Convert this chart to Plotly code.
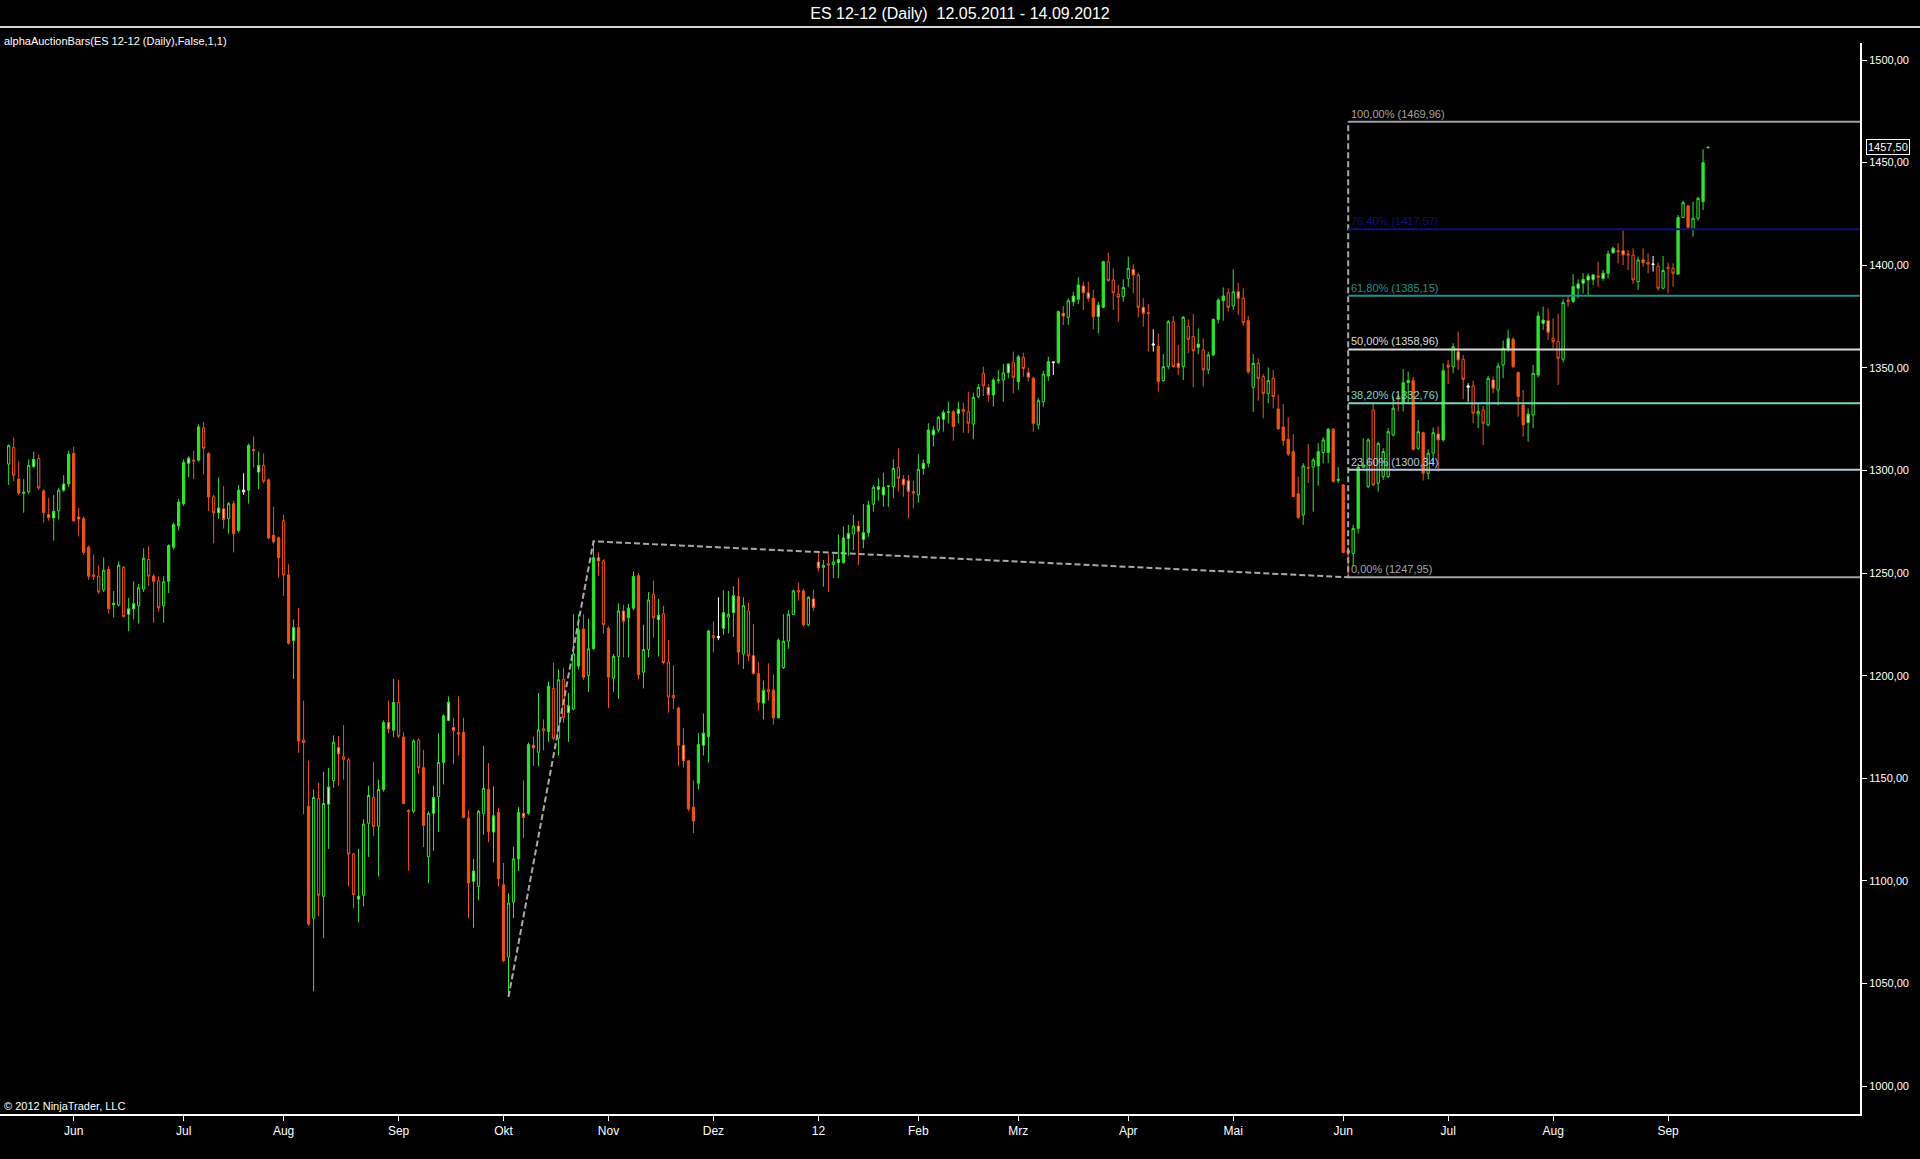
import plotly.graph_objects as go

# ---------------- data ----------------
bar_open = [
1303.1,1311.2,1295.8,1288.8,1289.6,1301.9,1305.8,1290.0,1278.4,1276.9,
1280.3,1290.4,1293.4,1308.3,1277.3,1276.5,1262.6,1249.1,1248.5,1241.8,
1251.8,1234.5,1234.5,1252.8,1229.9,1232.6,1234.1,1242.2,1256.6,1248.5,
1246.2,1234.1,1246.0,1262.6,1273.0,1283.8,1303.5,1305.0,1305.0,1320.8,
1308.3,1287.1,1279.4,1281.3,1276.5,1283.8,1270.7,1289.6,1290.4,1310.2,
1299.2,1302.5,1295.4,1268.4,1267.2,1275.5,1249.1,1217.1,1223.5,1168.6,
1136.4,1081.9,1140.1,1092.5,1137.4,1148.9,1165.1,1160.5,1159.0,1113.1,
1091.1,1093.0,1128.1,1140.6,1126.6,1144.5,1177.2,1173.4,1186.9,1170.1,
1134.3,1133.9,1168.6,1155.1,1111.7,1132.9,1141.0,1157.7,1178.2,1174.8,
1172.3,1172.3,1130.5,1099.8,1097.3,1132.9,1144.6,1123.8,1133.4,1098.1,
1062.9,1089.7,1110.7,1132.9,1132.9,1166.1,1162.7,1174.1,1172.8,1193.8,
1169.5,1198.3,1182.0,1183.7,1204.7,1222.8,1200.0,1213.1,1257.5,1255.9,
1223.1,1198.8,1209.4,1231.5,1228.2,1232.9,1248.7,1201.7,1212.7,1239.6,
1227.3,1230.2,1206.7,1190.4,1184.2,1166.1,1158.5,1135.9,1147.6,1166.1,
1170.3,1219.5,1218.5,1223.1,1228.5,1230.7,1238.6,1210.6,1231.5,1209.7,
1201.0,1186.6,1193.3,1193.0,1179.5,1203.9,1216.8,1229.9,1241.6,1241.3,
1224.8,1237.4,1255.4,1252.8,1254.5,1254.2,1255.0,1255.0,1266.8,1269.0,
1272.9,1266.4,1269.7,1283.6,1290.8,1288.1,1292.1,1292.1,1301.5,1295.7,
1295.0,1289.7,1288.1,1301.0,1303.5,1317.3,1319.7,1324.9,1328.2,1328.6,
1327.8,1329.8,1328.6,1322.6,1336.0,1347.3,1340.5,1336.8,1343.7,1344.1,
1347.6,1352.5,1343.3,1355.1,1347.6,1344.9,1322.2,1333.5,1346.0,1352.5,
1352.5,1376.6,1374.6,1382.2,1383.4,1389.9,1386.6,1383.9,1374.9,1379.5,
1401.7,1392.8,1386.0,1384.7,1393.6,1398.0,1395.2,1379.5,1376.9,1361.1,
1360.6,1343.8,1350.6,1372.5,1352.2,1350.6,1370.1,1365.2,1360.0,1358.7,
1349.0,1356.3,1373.6,1382.7,1386.6,1380.1,1387.1,1383.9,1373.0,1340.5,
1352.2,1345.7,1337.6,1344.9,1330.0,1321.2,1315.2,1309.2,1288.6,1278.3,
1301.6,1301.6,1302.2,1308.7,1308.7,1320.1,1295.1,1292.9,1261.0,1259.6,
1271.8,1301.6,1292.1,1329.5,1293.8,1297.0,1297.0,1317.3,1336.0,1332.7,
1342.8,1343.8,1310.8,1318.4,1298.6,1308.4,1317.8,1314.9,1351.4,1350.6,
1357.9,1354.2,1340.5,1341.2,1327.5,1329.5,1322.2,1344.1,1339.2,1351.4,
1359.5,1363.9,1347.7,1331.9,1323.3,1327.0,1346.5,1371.7,1373.0,1364.4,
1362.8,1354.2,1383.1,1382.3,1388.8,1391.2,1392.8,1393.1,1394.8,1393.6,
1396.1,1406.1,1407.1,1407.1,1405.5,1405.0,1392.0,1402.6,1401.3,1400.3,
1399.6,1388.8,1399.0,1398.5,1395.7,1423.3,1428.9,1417.5,1422.9,1431.0,
1457.25]

bar_high = [
1312.7,1316.0,1304.4,1295.8,1305.4,1309.2,1307.7,1290.9,1286.5,1288.1,
1291.5,1297.7,1309.6,1311.6,1281.7,1277.5,1263.4,1259.1,1253.8,1257.6,
1253.4,1241.2,1255.7,1253.4,1237.9,1246.0,1244.7,1262.1,1263.0,1249.5,
1248.5,1248.5,1264.0,1274.6,1286.1,1305.4,1306.9,1309.6,1322.4,1323.7,
1308.9,1288.1,1296.7,1292.3,1284.6,1285.2,1292.9,1298.6,1313.1,1316.6,
1309.2,1308.3,1296.1,1282.3,1267.8,1278.4,1254.3,1227.3,1233.1,1187.8,
1158.6,1144.5,1147.8,1153.2,1155.1,1170.9,1170.5,1175.9,1159.9,1113.7,
1115.6,1130.0,1146.4,1158.0,1149.3,1178.2,1187.8,1198.4,1197.9,1172.4,
1134.9,1169.0,1169.5,1163.8,1133.9,1146.4,1172.0,1181.2,1189.9,1179.5,
1189.9,1179.5,1134.5,1110.7,1134.5,1165.8,1157.4,1146.0,1135.6,1108.7,
1093.9,1116.6,1135.9,1149.0,1167.4,1170.3,1191.6,1178.7,1197.1,1206.4,
1203.0,1203.9,1191.6,1229.9,1229.9,1229.9,1227.8,1265.46,1260.1,1256.7,
1224.0,1210.6,1235.2,1234.6,1234.9,1250.8,1250.0,1224.8,1240.8,1246.3,
1237.4,1234.1,1217.3,1205.0,1184.9,1174.5,1159.0,1149.0,1172.0,1181.5,
1222.3,1226.5,1238.2,1241.6,1241.3,1243.6,1247.5,1238.2,1235.7,1225.2,
1206.7,1197.6,1206.0,1200.5,1218.1,1229.9,1231.9,1241.9,1245.3,1242.4,
1238.6,1241.9,1260.1,1256.4,1259.2,1259.2,1268.8,1272.6,1273.5,1278.3,
1275.5,1283.6,1285.3,1292.9,1296.2,1298.9,1292.9,1305.4,1310.8,1297.8,
1297.8,1295.0,1308.0,1305.4,1323.0,1321.7,1326.5,1329.5,1333.5,1329.5,
1333.5,1333.0,1338.4,1337.9,1342.1,1350.6,1342.1,1344.9,1349.0,1351.9,
1352.2,1357.9,1356.3,1357.4,1350.2,1345.7,1335.2,1348.6,1355.4,1353.0,
1377.9,1380.1,1383.9,1387.1,1394.1,1392.0,1392.0,1388.0,1382.2,1402.2,
1406.1,1398.5,1390.4,1393.1,1404.2,1400.6,1396.4,1383.9,1381.1,1368.8,
1366.8,1356.7,1373.3,1375.3,1361.1,1375.3,1373.6,1376.2,1369.2,1364.4,
1357.9,1374.1,1383.9,1389.2,1388.7,1398.0,1391.5,1388.7,1375.3,1356.7,
1354.6,1347.0,1350.2,1349.0,1337.0,1332.4,1325.9,1317.8,1297.0,1303.5,
1312.9,1305.9,1313.2,1316.2,1320.6,1320.6,1301.6,1293.4,1262.9,1273.5,
1302.7,1315.7,1315.7,1332.4,1314.1,1310.8,1320.6,1336.0,1337.3,1349.3,
1348.2,1345.7,1324.6,1318.9,1310.3,1321.0,1321.4,1352.2,1353.8,1362.0,
1367.6,1356.3,1342.5,1343.8,1333.1,1331.4,1346.0,1345.7,1352.5,1363.3,
1368.5,1364.9,1348.2,1339.2,1330.3,1351.4,1377.4,1379.8,1379.0,1374.1,
1376.3,1383.4,1385.5,1395.7,1393.1,1396.1,1396.1,1395.7,1401.7,1397.7,
1407.1,1409.1,1410.7,1416.9,1407.4,1408.2,1404.2,1408.2,1405.8,1404.5,
1401.3,1404.5,1401.3,1400.9,1424.5,1431.5,1429.4,1431.0,1433.4,1456.5,
1457.75]

bar_low = [
1292.9,1294.8,1288.1,1279.4,1288.4,1301.2,1290.4,1274.6,1275.5,1265.9,
1276.1,1289.6,1291.9,1274.9,1267.8,1258.8,1246.6,1246.6,1239.9,1240.8,
1230.2,1228.3,1233.7,1228.3,1221.6,1227.3,1225.4,1240.8,1243.7,1225.8,
1231.2,1225.8,1240.3,1261.5,1270.7,1282.7,1296.7,1295.8,1304.4,1298.1,
1280.3,1264.5,1276.5,1271.7,1269.2,1260.1,1269.7,1288.1,1283.8,1301.5,
1290.9,1293.8,1266.5,1264.5,1247.6,1238.9,1215.2,1198.4,1162.4,1132.4,
1078.0,1046.2,1082.8,1072.2,1115.6,1145.5,1146.4,1149.3,1097.3,1086.7,
1079.9,1087.7,1111.7,1121.9,1102.1,1143.5,1172.0,1170.1,1169.5,1137.4,
1105.0,1132.9,1152.2,1116.5,1098.8,1114.6,1123.8,1147.0,1177.8,1156.9,
1161.1,1130.5,1081.9,1077.2,1090.6,1122.5,1118.8,1109.0,1097.3,1060.4,
1043.45,1081.9,1104.8,1120.8,1132.2,1156.0,1156.0,1163.6,1167.8,1168.6,
1161.1,1177.0,1167.8,1183.2,1203.0,1198.0,1192.1,1212.7,1248.7,1220.6,
1184.2,1192.1,1188.7,1208.9,1208.9,1231.9,1198.3,1193.8,1208.9,1218.5,
1209.4,1205.5,1182.0,1183.7,1156.0,1155.2,1133.9,1123.3,1144.6,1161.1,
1157.7,1211.4,1217.3,1219.8,1220.6,1218.9,1205.5,1203.3,1207.2,1200.5,
1182.9,1178.7,1187.9,1176.2,1179.2,1203.3,1213.1,1229.5,1236.6,1224.0,
1224.0,1231.5,1250.8,1243.3,1240.8,1247.5,1247.5,1254.7,1258.4,1261.2,
1253.9,1262.1,1267.7,1279.9,1285.3,1282.3,1282.3,1286.4,1289.7,1287.2,
1276.7,1281.5,1284.3,1297.8,1301.5,1311.6,1318.4,1318.9,1323.0,1314.5,
1323.0,1318.4,1318.1,1315.2,1335.2,1336.3,1333.5,1331.1,1342.4,1333.5,
1344.9,1337.6,1339.2,1345.7,1343.3,1318.9,1320.0,1331.1,1343.7,1346.5,
1351.9,1370.9,1370.9,1380.1,1381.1,1378.2,1382.2,1368.8,1366.8,1379.0,
1392.0,1378.2,1372.5,1382.2,1389.5,1386.3,1374.6,1370.1,1357.9,1357.9,
1338.4,1343.3,1349.3,1350.2,1346.5,1344.1,1357.1,1340.5,1356.7,1340.8,
1347.0,1355.8,1371.7,1373.0,1377.4,1378.2,1375.8,1370.4,1347.0,1328.6,
1334.0,1325.4,1332.7,1330.3,1319.7,1312.0,1307.1,1286.9,1276.2,1273.5,
1293.8,1279.9,1292.5,1303.5,1303.5,1294.1,1293.8,1259.7,1247.95,1253.2,
1269.4,1301.1,1291.3,1292.5,1289.7,1295.4,1296.2,1316.5,1328.7,1328.7,
1332.7,1309.7,1310.0,1295.1,1295.7,1303.5,1299.4,1314.1,1342.2,1347.3,
1349.0,1334.7,1333.5,1323.0,1320.6,1312.4,1321.4,1337.6,1331.9,1344.9,
1357.9,1349.8,1326.2,1316.5,1314.1,1320.6,1345.4,1368.5,1363.6,1359.5,
1341.7,1352.5,1379.8,1381.5,1383.9,1386.3,1384.7,1390.4,1389.6,1392.5,
1393.6,1405.5,1400.9,1400.1,1397.7,1390.9,1388.0,1399.3,1396.1,1396.9,
1387.6,1388.3,1386.3,1389.6,1395.3,1422.9,1417.5,1413.9,1421.7,1426.9,
1457.0]

bar_close = [
1312.1,1297.7,1289.0,1289.4,1302.5,1305.4,1291.5,1279.4,1277.1,1280.0,
1290.4,1293.4,1307.9,1275.5,1276.3,1260.1,1248.5,1248.4,1240.8,1251.4,
1232.6,1235.3,1253.8,1228.9,1232.6,1235.1,1242.8,1257.2,1248.5,1246.0,
1233.1,1245.7,1263.4,1273.6,1284.6,1303.9,1306.0,1304.6,1321.2,1310.8,
1287.1,1279.4,1281.7,1276.1,1283.8,1269.2,1290.4,1290.4,1312.1,1309.6,
1302.5,1294.8,1267.2,1265.3,1257.6,1249.1,1215.8,1223.5,1168.2,1167.4,
1079.0,1140.6,1093.0,1137.7,1145.8,1167.6,1161.8,1159.3,1113.1,1093.4,
1092.5,1127.7,1141.6,1126.6,1144.5,1177.2,1174.0,1186.9,1170.5,1137.7,
1133.7,1168.2,1155.1,1127.1,1132.9,1140.6,1157.7,1180.4,1187.1,1173.3,
1171.5,1130.9,1099.0,1104.8,1133.9,1145.1,1124.1,1131.7,1101.0,1061.2,
1089.2,1110.7,1133.4,1130.9,1166.4,1164.8,1173.6,1173.1,1194.9,1169.5,
1198.0,1179.5,1185.4,1210.6,1222.3,1199.3,1213.1,1257.5,1255.9,1224.8,
1199.3,1209.4,1231.5,1226.5,1232.9,1248.3,1200.5,1212.7,1236.9,1228.2,
1229.5,1206.4,1189.6,1189.2,1166.1,1158.5,1135.1,1129.2,1166.4,1172.0,
1221.8,1218.5,1219.0,1230.7,1229.9,1239.1,1211.4,1234.1,1209.7,1201.0,
1187.1,1192.9,1192.1,1179.5,1217.3,1216.8,1229.9,1241.3,1240.8,1224.8,
1238.2,1233.2,1252.5,1253.7,1253.9,1255.4,1256.7,1267.1,1269.3,1272.9,
1270.2,1269.7,1283.2,1291.8,1292.1,1291.8,1292.4,1301.0,1296.2,1292.9,
1289.7,1288.9,1300.6,1303.5,1319.7,1319.7,1325.9,1328.2,1328.6,1321.4,
1329.8,1328.6,1323.0,1335.6,1340.5,1341.2,1336.8,1344.1,1344.1,1347.6,
1351.9,1345.4,1355.4,1349.7,1345.4,1323.0,1334.0,1347.0,1353.0,1352.8,
1377.4,1375.3,1382.7,1385.0,1390.4,1386.6,1383.9,1374.9,1380.6,1401.7,
1392.5,1386.6,1384.4,1389.2,1398.5,1395.2,1379.5,1376.6,1376.6,1361.6,
1343.3,1350.6,1372.5,1350.6,1350.2,1374.6,1363.9,1358.4,1361.6,1349.0,
1356.3,1373.6,1383.0,1385.0,1379.5,1387.1,1383.9,1372.0,1348.1,1352.2,
1344.9,1337.6,1343.8,1336.0,1320.3,1314.6,1308.0,1287.3,1277.2,1302.2,
1301.1,1305.1,1309.2,1314.9,1320.1,1294.6,1295.7,1260.0,1259.7,1271.8,
1301.6,1302.7,1314.9,1292.9,1313.2,1309.2,1318.9,1330.3,1334.7,1342.8,
1343.8,1310.3,1318.9,1298.6,1308.4,1318.4,1314.9,1348.6,1350.3,1360.3,
1353.8,1344.4,1341.2,1327.9,1328.7,1323.0,1344.9,1340.0,1350.9,1359.5,
1364.4,1350.6,1336.0,1322.2,1327.5,1347.3,1375.3,1373.3,1367.2,1362.8,
1354.7,1381.8,1382.3,1389.6,1390.9,1393.1,1394.8,1395.3,1394.1,1396.1,
1405.5,1408.3,1406.6,1405.0,1405.0,1392.8,1402.6,1401.3,1400.6,1400.6,
1388.8,1397.4,1398.5,1396.1,1423.3,1430.5,1418.5,1422.9,1432.6,1450.0,
1457.5]

# bar colouring from the indicator: G/g/L green (filled / hollow / pale),
# R/r/P orange-red (filled / hollow / pale), W white
bar_style = list(
    "grRggLrRPL" "gLGRPRRrrg" "RLgrLLggrR" "rgGGGGLrGr" "RrLPgRGWGr"
    "LrRRRrRLRr" "RgrgLgPrrr" "LggrgGPGrR" "rgrRgLgGLP" "rRRLggRLRR"
    "ggGPGPgrGr" "grLgGRgGPr" "RggPGGRggr" "LrrrRPRRGL" "GrWLgLRgrP"
    "RLrRGgggrR" "gPPgrgLGLg" "PLGgLLggrP" "PrgLGLgLgR" "LrrggrPGgg"
    "LrGrPRggGW" "GPgLGPPRLG" "rrrggPrPrW" "RggrPgrrLr" "gGGGrgPrRg"
    "rrgrRRRRRg" "rgGgGRgRPg" "GggrggggrG" "GRgRggPGrg" "PrWrgrgPgg"
    "LRRRLgGLPr" "rgrGLLLLrL" "GLrPrrgPrW" "rgrrGgRggGG")

# x-axis: bar index of the first trading day of each month
month_tick_idx = [13, 35, 55, 78, 99, 120, 141, 162, 182, 202, 224, 245, 267, 288, 309, 332]
month_tick_txt = ["Jun", "Jul", "Aug", "Sep", "Okt", "Nov", "Dez", "12",
                  "Feb", "Mrz", "Apr", "Mai", "Jun", "Jul", "Aug", "Sep"]
price_ticks = [1000, 1050, 1100, 1150, 1200, 1250, 1300, 1350, 1400, 1450, 1500]

# Fibonacci extension drawing (A-B-C), anchored on bar indices
fib_path_idx = [100, 117, 268, 268]
fib_path_val = [1043.45, 1265.46, 1247.95, 1469.96]
fib_start_idx = 268
fib_levels = [1469.96, 1417.57, 1385.15, 1358.96, 1332.76, 1300.34, 1247.95]
fib_labels = ["100,00% (1469,96)", "76,40% (1417,57)", "61,80% (1385,15)",
              "50,00% (1358,96)", "38,20% (1332,76)", "23,60% (1300,34)",
              "0,00% (1247,95)"]
fib_colors = ["#a3a3a3", "#10107a", "#238f88", "#dcdcdc", "#7fd6c4", "#b8c8e0", "#a3a3a3"]

last_price = 1457.50

# ---------------- figure ----------------
GREEN = "#2fe32f"
ORANGE = "#f0521c"
styles = {
    "G": (GREEN, GREEN),
    "g": (GREEN, "#000000"),
    "L": (GREEN, "#c9f5c9"),
    "R": (ORANGE, ORANGE),
    "r": (ORANGE, "#000000"),
    "P": (ORANGE, "#f7cdb6"),
    "W": ("#ffffff", "#000000"),
}

FONT = "Arial, Liberation Sans, sans-serif"
fig = go.Figure()

for key, (lc, fc) in styles.items():
    idx = [i for i, s in enumerate(bar_style) if s == key]
    if not idx:
        continue
    fig.add_trace(go.Candlestick(
        x=idx,
        open=[bar_open[i] for i in idx],
        high=[bar_high[i] for i in idx],
        low=[bar_low[i] for i in idx],
        close=[bar_close[i] for i in idx],
        increasing=dict(line=dict(color=lc, width=1), fillcolor=fc),
        decreasing=dict(line=dict(color=lc, width=1), fillcolor=fc),
        whiskerwidth=0,
        showlegend=False,
        hoverinfo="skip",
    ))

# dashed A-B-C path and vertical projection
fig.add_trace(go.Scatter(
    x=fib_path_idx, y=fib_path_val, mode="lines",
    line=dict(color="#a8a8a8", width=2, dash="6px,3px"),
    showlegend=False, hoverinfo="skip"))

X_MIN, X_MAX = -1.74, 370.4
Y_MIN, Y_MAX = 986.4, 1508.3

for lvl, lab, col in zip(fib_levels, fib_labels, fib_colors):
    fig.add_trace(go.Scatter(
        x=[fib_start_idx, X_MAX], y=[lvl, lvl], mode="lines",
        line=dict(color=col, width=2), showlegend=False, hoverinfo="skip"))
    fig.add_annotation(
        x=fib_start_idx, y=lvl, xref="x", yref="y", text=lab, showarrow=False,
        xanchor="left", yanchor="bottom", xshift=1, yshift=0,
        font=dict(family=FONT, size=11, color=col))

fig.update_layout(
    width=1920, height=1159,
    paper_bgcolor="#000000", plot_bgcolor="#000000",
    margin=dict(l=0, r=60, t=43, b=45),
    separators=",.",
    boxgap=0.35,
    showlegend=False,
    title=dict(text="ES 12-12 (Daily)  12.05.2011 - 14.09.2012",
               x=0.5, xref="container", xanchor="center",
               y=1 - 13 / 1159, yref="container", yanchor="middle",
               font=dict(family=FONT, size=16, color="#ffffff")),
    xaxis=dict(
        range=[X_MIN, X_MAX], rangeslider=dict(visible=False),
        showgrid=False, zeroline=False, showline=True, linecolor="#ffffff", linewidth=2,
        ticks="outside", ticklen=5, tickcolor="#ffffff", tickwidth=1,
        tickmode="array", tickvals=month_tick_idx, ticktext=month_tick_txt,
        tickfont=dict(family=FONT, size=12, color="#ffffff"),
    ),
    yaxis=dict(
        range=[Y_MIN, Y_MAX], side="right",
        showgrid=False, zeroline=False, showline=True, linecolor="#ffffff", linewidth=2,
        ticks="outside", ticklen=5, tickcolor="#ffffff", tickwidth=1,
        tickmode="array", tickvals=price_ticks, tickformat=".2f",
        tickfont=dict(family=FONT, size=11, color="#ffffff"),
    ),
)

# header separator line
fig.add_shape(type="line", xref="paper", yref="paper",
              x0=0, x1=1920 / 1860, y0=(1114 - 27) / 1071, y1=(1114 - 27) / 1071,
              line=dict(color="#d8d8d8", width=2))

fig.add_annotation(text="alphaAuctionBars(ES 12-12 (Daily),False,1,1)",
                   xref="paper", yref="paper", x=2 / 1860, y=(1114 - 41) / 1071,
                   xanchor="left", yanchor="middle", showarrow=False,
                   font=dict(family=FONT, size=11, color="#ffffff"))
fig.add_annotation(text="© 2012 NinjaTrader, LLC",
                   xref="paper", yref="paper", x=2 / 1860, y=(1114 - 1106) / 1071,
                   xanchor="left", yanchor="middle", showarrow=False,
                   font=dict(family=FONT, size=11, color="#ffffff"))
fig.add_annotation(text="1457,50", xref="paper", yref="y",
                   x=1866 / 1860, y=last_price, xanchor="left", yanchor="middle",
                   showarrow=False, bgcolor="#000000", bordercolor="#ffffff",
                   borderwidth=1, borderpad=1,
                   font=dict(family=FONT, size=11, color="#ffffff"))

fig.write_html(
    "out.html",
    config={"displayModeBar": False},
    post_script="document.body.style.margin='0';document.body.style.background='#000000';"
                "document.body.style.overflow='hidden';")
